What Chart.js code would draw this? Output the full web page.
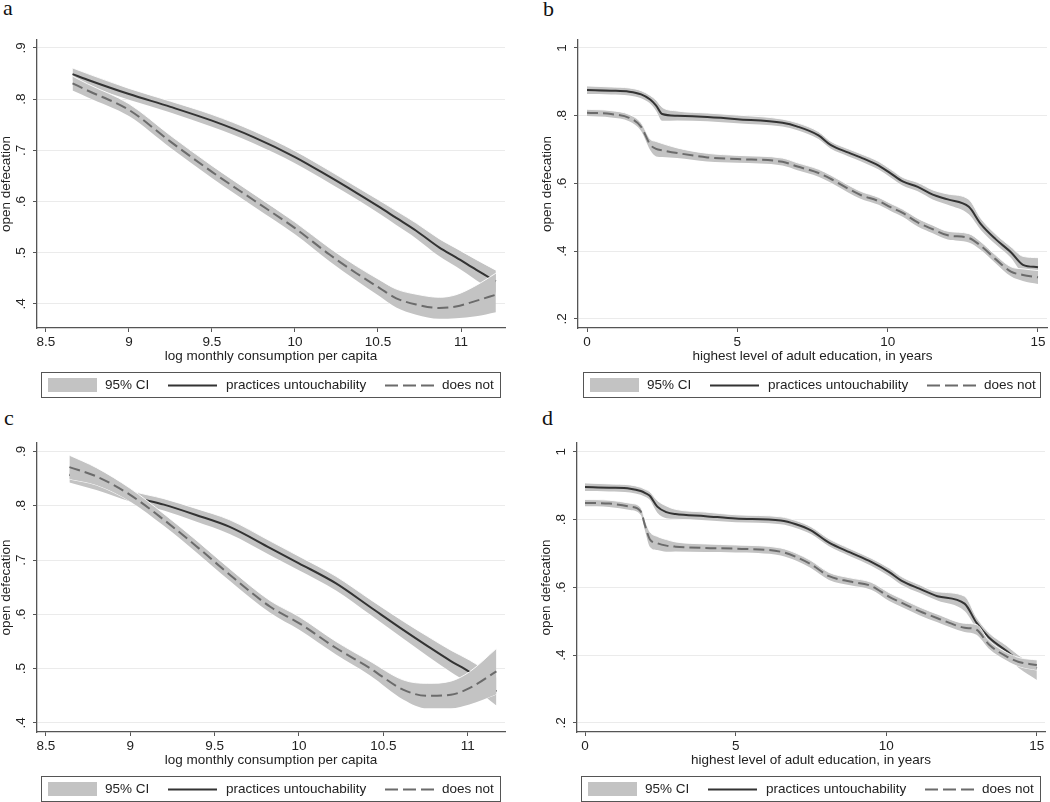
<!DOCTYPE html>
<html><head><meta charset="utf-8">
<script src="https://cdn.jsdelivr.net/npm/chart.js@4.4.1/dist/chart.umd.min.js"></script>
<style>
html,body{margin:0;padding:0;background:#fff;}
body{width:1050px;height:802px;position:relative;overflow:hidden;}
canvas{position:absolute;}
.lab{position:absolute;font-family:'Liberation Serif','Times New Roman',serif;font-size:22px;line-height:22px;color:#111;}
</style></head><body>
<div class="lab" style="left:3px;top:-3px">a</div>
<div class="lab" style="left:543px;top:-2px">b</div>
<div class="lab" style="left:4px;top:407px">c</div>
<div class="lab" style="left:542px;top:407px">d</div>
<canvas id="ca" width="525" height="401" style="left:0;top:0"></canvas>
<canvas id="cb" width="525" height="401" style="left:525px;top:0"></canvas>
<canvas id="cc" width="525" height="401" style="left:0;top:401px"></canvas>
<canvas id="cd" width="525" height="401" style="left:525px;top:401px"></canvas>
<script>
// ---------- data ----------
const legendLabels = ['95% CI', 'practices untouchability', 'does not'];
const yTitle = 'open defecation';
const xTitleCons = 'log monthly consumption per capita';
const xTitleEdu = 'highest level of adult education, in years';

const consTicks = [8.5, 9, 9.5, 10, 10.5, 11];
const consTickLabels = ['8.5', '9', '9.5', '10', '10.5', '11'];
const eduTicks = [0, 5, 10, 15];
const eduTickLabels = ['0', '5', '10', '15'];
const yTicksCons = [0.4, 0.5, 0.6, 0.7, 0.8, 0.9];
const yTickLabelsCons = ['.4', '.5', '.6', '.7', '.8', '.9'];
const yTicksEdu = [0.2, 0.4, 0.6, 0.8, 1];
const yTickLabelsEdu = ['.2', '.4', '.6', '.8', '1'];

// panel a
const consA_x = [8.66, 8.75, 9.0, 9.25, 9.5, 9.75, 10.0, 10.21, 10.37, 10.51, 10.61, 10.73, 10.87, 10.97, 11.09, 11.21];
const pracA    = [0.849, 0.838, 0.810, 0.785, 0.758, 0.726, 0.687, 0.648, 0.617, 0.589, 0.568, 0.543, 0.510, 0.491, 0.467, 0.444];
const pracA_lo = [0.837, 0.826, 0.799, 0.774, 0.746, 0.714, 0.675, 0.636, 0.605, 0.576, 0.554, 0.528, 0.493, 0.473, 0.447, 0.422];
const pracA_hi = [0.861, 0.850, 0.821, 0.796, 0.770, 0.738, 0.699, 0.660, 0.629, 0.602, 0.582, 0.558, 0.527, 0.509, 0.487, 0.466];
const notA     = [0.831, 0.817, 0.779, 0.717, 0.658, 0.603, 0.548, 0.496, 0.460, 0.431, 0.411, 0.399, 0.392, 0.395, 0.406, 0.418];
const notA_lo  = [0.817, 0.804, 0.767, 0.705, 0.646, 0.591, 0.536, 0.483, 0.446, 0.415, 0.393, 0.379, 0.371, 0.372, 0.376, 0.384];
const notA_hi  = [0.845, 0.830, 0.791, 0.729, 0.670, 0.615, 0.560, 0.509, 0.474, 0.447, 0.429, 0.419, 0.413, 0.418, 0.436, 0.460];

// panel b
const eduB_x = [0, 0.8, 1.4, 1.8, 2.1, 2.3, 2.5, 3.0, 4.0, 5.0, 6.5, 7.0, 7.7, 8.1, 8.7, 9.1, 9.7, 10.1, 10.5, 11.0, 11.5, 12.0, 12.7, 13.1, 13.6, 14.1, 14.5, 15.0];
const pracB    = [0.876, 0.874, 0.871, 0.863, 0.848, 0.830, 0.805, 0.800, 0.796, 0.790, 0.779, 0.768, 0.742, 0.714, 0.691, 0.677, 0.653, 0.630, 0.606, 0.590, 0.567, 0.553, 0.531, 0.480, 0.435, 0.397, 0.360, 0.353];
const pracB_lo = [0.864, 0.863, 0.860, 0.852, 0.836, 0.814, 0.785, 0.786, 0.784, 0.778, 0.768, 0.757, 0.731, 0.703, 0.680, 0.666, 0.641, 0.618, 0.594, 0.577, 0.553, 0.537, 0.509, 0.463, 0.420, 0.381, 0.335, 0.325];
const pracB_hi = [0.888, 0.885, 0.882, 0.874, 0.860, 0.846, 0.825, 0.814, 0.808, 0.802, 0.790, 0.779, 0.753, 0.725, 0.702, 0.688, 0.665, 0.642, 0.618, 0.603, 0.581, 0.569, 0.553, 0.497, 0.450, 0.413, 0.385, 0.381];
const notB     = [0.809, 0.805, 0.794, 0.767, 0.715, 0.702, 0.698, 0.690, 0.677, 0.672, 0.664, 0.650, 0.631, 0.614, 0.584, 0.566, 0.548, 0.530, 0.513, 0.485, 0.465, 0.447, 0.439, 0.416, 0.376, 0.340, 0.330, 0.323];
const notB_lo  = [0.799, 0.795, 0.784, 0.755, 0.699, 0.680, 0.678, 0.675, 0.665, 0.661, 0.653, 0.639, 0.620, 0.603, 0.573, 0.555, 0.537, 0.519, 0.502, 0.473, 0.453, 0.435, 0.426, 0.404, 0.364, 0.326, 0.312, 0.303];
const notB_hi  = [0.819, 0.815, 0.804, 0.779, 0.731, 0.724, 0.718, 0.705, 0.689, 0.683, 0.675, 0.661, 0.642, 0.625, 0.595, 0.577, 0.559, 0.541, 0.524, 0.497, 0.477, 0.459, 0.452, 0.428, 0.388, 0.354, 0.348, 0.343];

// panel c
const consC_x = [8.64, 8.8, 9.0, 9.2, 9.39, 9.59, 9.83, 10.0, 10.22, 10.42, 10.62, 10.76, 10.9, 11.01, 11.17];
const pracC    = [0.857, 0.843, 0.818, 0.802, 0.783, 0.761, 0.722, 0.694, 0.657, 0.614, 0.571, 0.542, 0.514, 0.494, 0.458];
const pracC_lo = [0.843, 0.829, 0.808, 0.791, 0.771, 0.748, 0.709, 0.681, 0.644, 0.600, 0.555, 0.524, 0.494, 0.472, 0.432];
const pracC_hi = [0.868, 0.852, 0.828, 0.813, 0.795, 0.774, 0.735, 0.707, 0.670, 0.628, 0.587, 0.560, 0.534, 0.516, 0.484];
const notC     = [0.871, 0.854, 0.820, 0.774, 0.726, 0.673, 0.614, 0.584, 0.538, 0.501, 0.461, 0.450, 0.452, 0.464, 0.495];
const notC_lo  = [0.849, 0.838, 0.808, 0.763, 0.715, 0.662, 0.603, 0.572, 0.526, 0.488, 0.443, 0.427, 0.427, 0.434, 0.453];
const notC_hi  = [0.893, 0.870, 0.832, 0.785, 0.737, 0.684, 0.625, 0.596, 0.550, 0.514, 0.479, 0.473, 0.477, 0.494, 0.537];

// panel d
const eduD_x = [0, 0.8, 1.5, 1.85, 2.0, 2.15, 2.4, 2.7, 3.0, 4.0, 5.0, 6.5, 7.0, 7.5, 8.1, 8.8, 9.5, 10.1, 10.5, 11.1, 11.7, 12.6, 13.0, 13.4, 14.0, 14.4, 15.0];
const pracD    = [0.896, 0.894, 0.891, 0.884, 0.878, 0.870, 0.838, 0.822, 0.816, 0.810, 0.803, 0.797, 0.786, 0.768, 0.732, 0.703, 0.675, 0.645, 0.620, 0.596, 0.574, 0.552, 0.495, 0.453, 0.412, 0.385, 0.362];
const pracD_lo = [0.884, 0.883, 0.880, 0.873, 0.867, 0.858, 0.820, 0.804, 0.802, 0.798, 0.792, 0.786, 0.775, 0.757, 0.721, 0.692, 0.664, 0.633, 0.608, 0.584, 0.561, 0.530, 0.479, 0.439, 0.396, 0.362, 0.327];
const pracD_hi = [0.908, 0.905, 0.902, 0.895, 0.889, 0.882, 0.856, 0.840, 0.830, 0.822, 0.814, 0.808, 0.797, 0.779, 0.743, 0.714, 0.686, 0.657, 0.632, 0.608, 0.587, 0.574, 0.511, 0.467, 0.428, 0.400, 0.369];
const notD     = [0.849, 0.847, 0.838, 0.824, 0.780, 0.742, 0.730, 0.723, 0.720, 0.716, 0.714, 0.705, 0.690, 0.668, 0.633, 0.617, 0.604, 0.572, 0.555, 0.530, 0.509, 0.481, 0.475, 0.432, 0.396, 0.380, 0.371];
const notD_lo  = [0.839, 0.837, 0.828, 0.813, 0.764, 0.720, 0.710, 0.705, 0.706, 0.704, 0.703, 0.694, 0.679, 0.657, 0.622, 0.606, 0.593, 0.560, 0.543, 0.518, 0.497, 0.468, 0.460, 0.420, 0.384, 0.367, 0.356];
const notD_hi  = [0.859, 0.857, 0.848, 0.835, 0.796, 0.764, 0.750, 0.741, 0.734, 0.728, 0.725, 0.716, 0.701, 0.679, 0.644, 0.628, 0.615, 0.584, 0.567, 0.542, 0.521, 0.494, 0.490, 0.444, 0.408, 0.393, 0.386];

// ---------- style ----------
const FONT = "'Liberation Sans', Arial, Helvetica, sans-serif";
const FS = 13.5;
const TXT = '#222';
const AXIS = '#555';
const GRID = '#ebebeb';
const BAND = '#c3c3c3';
const SOLID = '#333';
const DASHC = '#6b6b6b';
const DASH = [11, 5];

const legendPlugin = {
  id: 'stataLegend',
  afterDraw(chart, args, o) {
    const ctx = chart.ctx;
    const x = o.x, y = o.y, w = o.w, h = o.h;
    ctx.save();
    ctx.fillStyle = '#fff';
    ctx.fillRect(x, y, w, h);
    ctx.strokeStyle = AXIS; ctx.lineWidth = 1;
    ctx.strokeRect(x + 0.5, y + 0.5, w, h);
    const cy = y + h / 2 + 1;
    ctx.fillStyle = BAND;
    ctx.fillRect(x + 7, y + 6, 49, h - 11);
    ctx.font = FS + 'px ' + FONT;
    ctx.fillStyle = TXT; ctx.textBaseline = 'middle'; ctx.textAlign = 'left';
    ctx.fillText(legendLabels[0], x + 64, cy);
    ctx.strokeStyle = SOLID; ctx.lineWidth = 2;
    ctx.beginPath(); ctx.moveTo(x + 127, cy); ctx.lineTo(x + 176, cy); ctx.stroke();
    ctx.fillText(legendLabels[1], x + 185, cy);
    ctx.strokeStyle = DASHC; ctx.setLineDash([13, 5]);
    ctx.beginPath(); ctx.moveTo(x + 344, cy); ctx.lineTo(x + 393, cy); ctx.stroke();
    ctx.setLineDash([]);
    ctx.fillText(legendLabels[2], x + 401, cy);
    ctx.restore();
  }
};

function pts(xs, ys) { return xs.map((v, i) => ({x: v, y: ys[i]})); }

function makePanel(p) {
  const W = 525, H = 401;
  const xh = 37;
  const bandBorder = 'rgba(255,255,255,0.9)';
  const base = {pointRadius: 0, cubicInterpolationMode: 'monotone'};
  const datasets = [
    Object.assign({}, base, {label: legendLabels[2], data: pts(p.xs, p.not), borderColor: DASHC, borderWidth: 2, borderDash: DASH, fill: false}),
    Object.assign({}, base, {label: 'ci-not-hi', data: pts(p.xs, p.notHi), borderColor: bandBorder, borderWidth: 1, fill: '+1', backgroundColor: BAND}),
    Object.assign({}, base, {label: 'ci-not-lo', data: pts(p.xs, p.notLo), borderColor: bandBorder, borderWidth: 1, fill: false}),
    Object.assign({}, base, {label: legendLabels[1], data: pts(p.xs, p.prac), borderColor: SOLID, borderWidth: 2, fill: false}),
    Object.assign({}, base, {label: 'ci-prac-hi', data: pts(p.xs, p.pracHi), borderColor: bandBorder, borderWidth: 1, fill: '+1', backgroundColor: BAND}),
    Object.assign({}, base, {label: 'ci-prac-lo', data: pts(p.xs, p.pracLo), borderColor: bandBorder, borderWidth: 1, fill: false})
  ];
  return new Chart(document.getElementById(p.id), {
    type: 'line',
    data: {datasets},
    plugins: [legendPlugin],
    options: {
      responsive: false, animation: false, devicePixelRatio: 1,
      layout: {padding: {left: 0, top: p.area.t, right: W - p.area.r, bottom: H - p.area.b - xh}},
      plugins: {
        legend: {display: false}, tooltip: {enabled: false},
        filler: {drawTime: 'beforeDatasetDraw'},
        stataLegend: p.legend
      },
      scales: {
        x: {
          type: 'linear', min: p.xMin, max: p.xMax,
          afterBuildTicks: s => { s.ticks = p.xTicks.map(v => ({value: v})); },
          afterFit: s => { s.height = xh; s.paddingLeft = 0; s.paddingRight = 0; },
          ticks: {font: {family: FONT, size: FS}, color: TXT, padding: 2.5, maxRotation: 0, autoSkip: false,
                  callback: v => p.xTickLabels[p.xTicks.indexOf(v)]},
          grid: {drawOnChartArea: false, drawTicks: true, tickLength: 4, tickColor: AXIS, tickWidth: 1},
          border: {display: true, color: AXIS, width: 1.3},
          title: {display: true, text: p.xTitle, font: {family: FONT, size: FS, lineHeight: 1}, color: TXT, padding: {top: 0, bottom: 1.5}}
        },
        y: {
          type: 'linear', min: p.yMin, max: p.yMax,
          afterBuildTicks: s => { s.ticks = p.yTicks.map(v => ({value: v})); },
          afterFit: s => { s.width = p.area.l; s.paddingTop = 0; s.paddingBottom = 0; },
          ticks: {font: {family: FONT, size: FS}, color: TXT, padding: 6, minRotation: 90, maxRotation: 90, crossAlign: 'center', autoSkip: false,
                  callback: v => p.yTickLabels[p.yTicks.indexOf(v)]},
          grid: {color: GRID, lineWidth: 1, drawTicks: true, tickLength: 4, tickColor: AXIS, tickWidth: 1},
          border: {display: true, color: AXIS, width: 1.3},
          title: {display: true, text: yTitle, font: {family: FONT, size: FS, lineHeight: 1}, color: TXT, padding: {top: p.yTitlePad, bottom: 0}}
        }
      }
    }
  });
}

makePanel({id: 'ca', xs: consA_x, prac: pracA, pracLo: pracA_lo, pracHi: pracA_hi, not: notA, notLo: notA_lo, notHi: notA_hi,
  xMin: 8.446, xMax: 11.265, yMin: 0.353, yMax: 0.9156, xTicks: consTicks, xTickLabels: consTickLabels,
  yTicks: yTicksCons, yTickLabels: yTickLabelsCons, xTitle: xTitleCons, yTitlePad: 0,
  area: {l: 37, r: 505, t: 40, b: 328}, legend: {x: 41, y: 372, w: 459, h: 25}});

makePanel({id: 'cb', xs: eduB_x, prac: pracB, pracLo: pracB_lo, pracHi: pracB_hi, not: notB, notLo: notB_lo, notHi: notB_hi,
  xMin: -0.3, xMax: 15.3, yMin: 0.1734, yMax: 1.0236, xTicks: eduTicks, xTickLabels: eduTickLabels,
  yTicks: yTicksEdu, yTickLabels: yTickLabelsEdu, xTitle: xTitleEdu, yTitlePad: 16,
  area: {l: 53, r: 522, t: 40, b: 328}, legend: {x: 58, y: 372, w: 457, h: 25}});

makePanel({id: 'cc', xs: consC_x, prac: pracC, pracLo: pracC_lo, pracHi: pracC_hi, not: notC, notLo: notC_lo, notHi: notC_hi,
  xMin: 8.448, xMax: 11.221, yMin: 0.3834, yMax: 0.9155, xTicks: consTicks, xTickLabels: consTickLabels,
  yTicks: yTicksCons, yTickLabels: yTickLabelsCons, xTitle: xTitleCons, yTitlePad: 0,
  area: {l: 37, r: 505, t: 42, b: 331}, legend: {x: 41, y: 375, w: 459, h: 25}});

makePanel({id: 'cd', xs: eduD_x, prac: pracD, pracLo: pracD_lo, pracHi: pracD_hi, not: notD, notLo: notD_lo, notHi: notD_hi,
  xMin: -0.266, xMax: 15.27, yMin: 0.1734, yMax: 1.0257, xTicks: eduTicks, xTickLabels: eduTickLabels,
  yTicks: yTicksEdu, yTickLabels: yTickLabelsEdu, xTitle: xTitleEdu, yTitlePad: 15,
  area: {l: 52, r: 520, t: 42, b: 331}, legend: {x: 56, y: 375, w: 459, h: 25}});
</script>
</body></html>
